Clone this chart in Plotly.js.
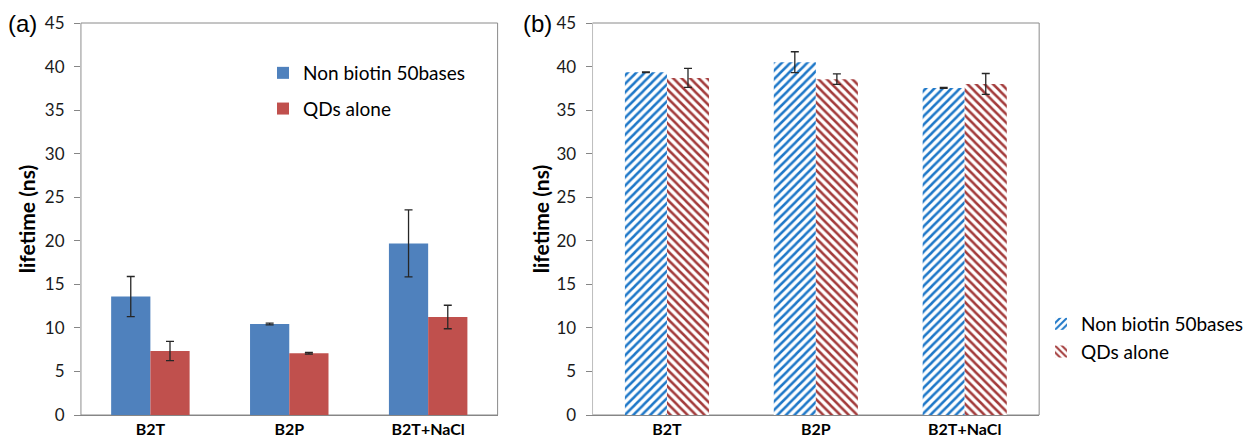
<!DOCTYPE html>
<html>
<head>
<meta charset="utf-8">
<script src="https://cdn.plot.ly/plotly-3.0.1.min.js"></script>
<style>html,body{margin:0;padding:0;background:#fff;}#chart{width:1249px;height:439px;}</style>
</head>
<body>
<div id="chart"></div>
<script>
// ---- data ----
const categories = ['B2T', 'B2P', 'B2T+NaCl'];
const seriesNames = ['Non biotin 50bases', 'QDs alone'];
// panel (a)
const aNonBiotin = [13.6, 10.45, 19.7];
const aNonBiotinErr = [2.3, 0.1, 3.85];
const aQDs = [7.35, 7.1, 11.25];
const aQDsErr = [1.1, 0.1, 1.35];
// panel (b)
const bNonBiotin = [39.35, 40.5, 37.55];
const bNonBiotinErr = [0.05, 1.2, 0.05];
const bQDs = [38.7, 38.55, 38.0];
const bQDsErr = [1.1, 0.6, 1.2];
const yTicks = [0, 5, 10, 15, 20, 25, 30, 35, 40, 45];

const W = 1249, H = 439;
const px = v => v / W;
const py = v => 1 - v / H;

const blueA = '#4F81BD', redA = '#C0504D';
const blueB = '#1F78C8', redB = '#A33B3B';
const errStyle = {color: '#262626', thickness: 1.3, width: 4};
const font = 'Lato, "Open Sans", sans-serif';

const traces = [
  {type: 'bar', x: categories, y: aNonBiotin, name: seriesNames[0], xaxis: 'x', yaxis: 'y',
   marker: {color: blueA, line: {width: 0}}, legend: 'legend', legendgroup: 'a1',
   error_y: Object.assign({type: 'data', array: aNonBiotinErr, visible: true}, errStyle)},
  {type: 'bar', x: categories, y: aQDs, name: seriesNames[1], xaxis: 'x', yaxis: 'y',
   marker: {color: redA, line: {width: 0}}, legend: 'legend', legendgroup: 'a2',
   error_y: Object.assign({type: 'data', array: aQDsErr, visible: true}, errStyle)},
  {type: 'bar', x: categories, y: bNonBiotin, name: seriesNames[0], xaxis: 'x2', yaxis: 'y2',
   marker: {color: blueB, line: {width: 0}, pattern: {shape: '/', size: 6, solidity: 0.42, bgcolor: 'white', fillmode: 'replace'}},
   legend: 'legend2', legendgroup: 'b1',
   error_y: Object.assign({type: 'data', array: bNonBiotinErr, visible: true}, errStyle)},
  {type: 'bar', x: categories, y: bQDs, name: seriesNames[1], xaxis: 'x2', yaxis: 'y2',
   marker: {color: redB, line: {width: 0}, pattern: {shape: '\\', size: 6, solidity: 0.42, bgcolor: 'white', fillmode: 'replace'}},
   legend: 'legend2', legendgroup: 'b2',
   error_y: Object.assign({type: 'data', array: bQDsErr, visible: true}, errStyle)}
];

const yDomain = [py(415), py(23)];
function yAxis(anchor, standoff) {
  return {
    anchor: anchor, domain: yDomain, range: [0, 45], tickvals: yTicks, ticktext: yTicks.map(String),
    showgrid: false, zeroline: false, showline: true, linecolor: '#BFBFBF', linewidth: 1,
    ticks: 'outside', ticklen: 6, tickcolor: '#868686', ticklabelstandoff: 6,
    tickfont: {family: font, size: 17, color: '#1a1a1a'},
    title: {text: '<b>lifetime (ns)</b>', font: {family: font, size: 21, color: '#000'}, standoff: standoff},
    fixedrange: true
  };
}
function xAxis(anchor, d0, d1) {
  return {
    anchor: anchor, domain: [px(d0), px(d1)], type: 'category',
    showgrid: false, zeroline: false, showline: true, linecolor: '#868686', linewidth: 1.2,
    ticks: '', ticklabelstandoff: 0,
    tickfont: {family: font, size: 16, color: '#000', weight: 'bold'},
    fixedrange: true
  };
}

const layout = {
  width: W, height: H,
  margin: {l: 0, r: 0, t: 0, b: 0},
  paper_bgcolor: '#fff', plot_bgcolor: '#fff',
  barmode: 'group', bargap: 0.435, bargroupgap: 0,
  xaxis: xAxis('y', 81, 498),
  yaxis: yAxis('x', 3),
  xaxis2: xAxis('y2', 593, 1040),
  yaxis2: yAxis('x2', 1),
  showlegend: true,
  legend: {x: px(263), y: py(54), xanchor: 'left', yanchor: 'top', tracegroupgap: 8,
           font: {family: font, size: 19, color: '#000'}, bgcolor: 'rgba(0,0,0,0)', traceorder: 'grouped'},
  legend2: {x: px(1042), y: py(305), xanchor: 'left', yanchor: 'top', tracegroupgap: 0,
            font: {family: font, size: 19, color: '#000'}, bgcolor: 'rgba(0,0,0,0)', traceorder: 'normal'},
  shapes: [
    {type: 'rect', xref: 'x domain', yref: 'y domain', x0: 0, x1: 1, y0: 0, y1: 1, layer: 'below',
     line: {color: '#8A8A8A', width: 1}, fillcolor: 'rgba(0,0,0,0)'},
    {type: 'rect', xref: 'x2 domain', yref: 'y2 domain', x0: 0, x1: 1, y0: 0, y1: 1, layer: 'below',
     line: {color: '#8A8A8A', width: 1}, fillcolor: 'rgba(0,0,0,0)'}
  ],
  annotations: [
    {text: '(a)', xref: 'paper', yref: 'paper', x: px(23), y: py(23), xanchor: 'center', yanchor: 'middle',
     showarrow: false, font: {family: '"Liberation Sans", Arial, sans-serif', size: 24, color: '#000'}},
    {text: '(b)', xref: 'paper', yref: 'paper', x: px(538), y: py(23), xanchor: 'center', yanchor: 'middle',
     showarrow: false, font: {family: '"Liberation Sans", Arial, sans-serif', size: 24, color: '#000'}}
  ]
};

Plotly.newPlot('chart', traces, layout, {displayModeBar: false, staticPlot: true});
</script>
</body>
</html>
